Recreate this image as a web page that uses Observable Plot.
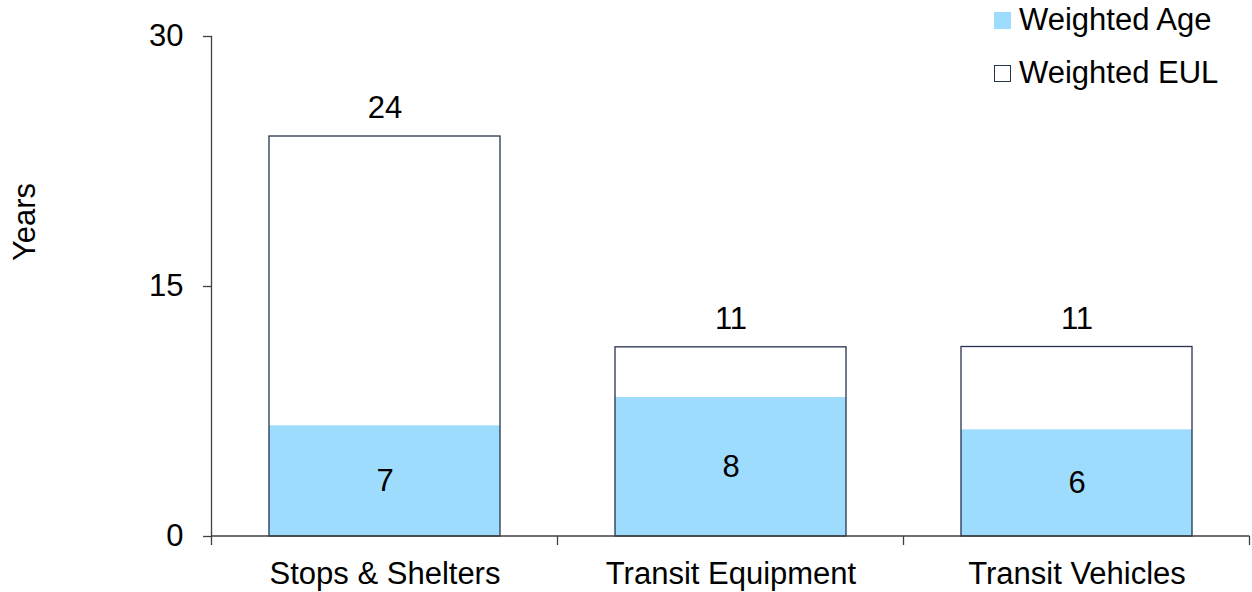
<!DOCTYPE html>
<html>
<head>
<meta charset="utf-8">
<script src="https://cdn.jsdelivr.net/npm/d3@7"></script>
<script src="https://cdn.jsdelivr.net/npm/@observablehq/plot@0.6"></script>
<style>
  html, body { margin: 0; padding: 0; background: #fff; }
  #wrap { position: relative; width: 1252px; height: 592px; font-family: "Liberation Sans", Arial, sans-serif; }
  #ylabel { position: absolute; left: 25px; top: 222px; transform: translate(-50%, -50%) rotate(-90deg); font-size: 31px; color: #000; white-space: nowrap; }
  #legend { position: absolute; left: 994px; top: 0px; font-size: 31px; color: #000; }
  .row { position: absolute; left: 0; height: 34px; display: flex; align-items: center; white-space: nowrap; }
  .sw { width: 17px; height: 17px; box-sizing: border-box; margin-right: 8px; }
</style>
</head>
<body>
<div id="wrap">
  <div id="chart"></div>
  <div id="ylabel"></div>
  <div id="legend"></div>
</div>
<script>
const categories = ["Stops & Shelters", "Transit Equipment", "Transit Vehicles"];
const weightedEUL = [24.0, 11.35, 11.37];
const weightedAge = [6.64, 8.34, 6.40];
const yTicks = [0, 15, 30];
const seriesNames = ["Weighted Age", "Weighted EUL"];
const yLabel = "Years";

const ageColor = "#9edcfe";
const barStroke = "#263450";
const axisColor = "#404040";
const fs = 31;

const data = categories.map((c, i) => ({category: c, eul: weightedEUL[i], age: weightedAge[i]}));

function axisExtras(index, scales, values, dims) {
  const x = scales.x, y = scales.y;
  const ns = "http://www.w3.org/2000/svg";
  const g = document.createElementNS(ns, "g");
  const bw = x.bandwidth ? x.bandwidth() : 0;
  const step = x.step ? x.step() : bw;
  const y0 = y(0);
  const bounds = categories.map(c => x(c) + bw / 2 - step / 2);
  bounds.push(x(categories[categories.length - 1]) + bw / 2 + step / 2);
  for (const b of bounds) {
    const l = document.createElementNS(ns, "line");
    l.setAttribute("x1", b); l.setAttribute("x2", b);
    l.setAttribute("y1", y0); l.setAttribute("y2", y0 + 9);
    l.setAttribute("stroke", axisColor); l.setAttribute("stroke-width", 1.3);
    g.appendChild(l);
  }
  const yl = document.createElementNS(ns, "line");
  const xl = bounds[0];
  yl.setAttribute("x1", xl); yl.setAttribute("x2", xl);
  yl.setAttribute("y1", y(yTicks[yTicks.length - 1])); yl.setAttribute("y2", y0);
  yl.setAttribute("stroke", axisColor); yl.setAttribute("stroke-width", 1.3);
  g.appendChild(yl);
  const xline = document.createElementNS(ns, "line");
  xline.setAttribute("x1", bounds[0]); xline.setAttribute("x2", bounds[bounds.length - 1]);
  xline.setAttribute("y1", y0); xline.setAttribute("y2", y0);
  xline.setAttribute("stroke", axisColor); xline.setAttribute("stroke-width", 1.3);
  g.appendChild(xline);
  return g;
}

const chart = Plot.plot({
  width: 1252,
  height: 592,
  marginLeft: 212,
  marginRight: 2,
  marginTop: 36,
  marginBottom: 56,
  style: {fontFamily: "'Liberation Sans', Arial, sans-serif", fontSize: fs + "px", color: "#000", background: "#fff", overflow: "visible"},
  x: {domain: categories, paddingInner: 0.332, paddingOuter: 0.166, label: null},
  y: {domain: [0, 30], label: null},
  marks: [
    Plot.barY(data, {x: "category", y: "age", fill: ageColor}),
    Plot.barY(data, {x: "category", y: "eul", fill: "none", stroke: barStroke, strokeWidth: 1.3}),
    Plot.axisX({tickSize: 0, tickPadding: 25, fill: "#000", fontSize: fs, label: null}),
    Plot.axisY({ticks: yTicks, tickSize: 9, tickPadding: 20, stroke: axisColor, strokeWidth: 1.3, fill: "#000", fontSize: fs, label: null, tickFormat: d3.format("d")}),
    axisExtras,
    Plot.text(data, {x: "category", y: "eul", text: d => d3.format(".0f")(d.eul), dy: -28, fill: "#000", fontSize: fs, lineAnchor: "middle"}),
    Plot.text(data, {x: "category", y: d => d.age / 2, text: d => d3.format(".0f")(d.age), fill: "#000", fontSize: fs, lineAnchor: "middle"})
  ]
});
document.getElementById("chart").appendChild(chart);
document.getElementById("ylabel").textContent = yLabel;

const legend = document.getElementById("legend");
seriesNames.forEach((name, i) => {
  const row = document.createElement("div");
  row.className = "row";
  row.style.top = (3 + i * 53) + "px";
  const sw = document.createElement("div");
  sw.className = "sw";
  if (i === 0) { sw.style.background = ageColor; }
  else { sw.style.background = "#fff"; sw.style.border = "1.5px solid " + barStroke; }
  const t = document.createElement("span");
  t.textContent = name;
  row.appendChild(sw); row.appendChild(t);
  legend.appendChild(row);
});
</script>
</body>
</html>
